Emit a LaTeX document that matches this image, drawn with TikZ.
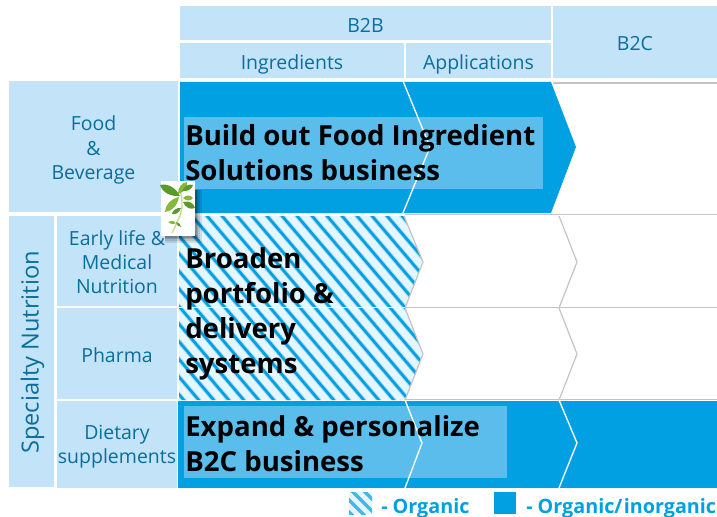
\documentclass[tikz,border=0pt]{standalone}
\usepackage{fontspec}
\usetikzlibrary{calc}
\setmainfont{Open Sans}
\definecolor{cellblue}{HTML}{C2E3F8}
\definecolor{labelblue}{HTML}{0A6E9C}
\definecolor{solidblue}{HTML}{00A0E3}
\definecolor{boxblue}{HTML}{5ABDEC}
\definecolor{hatchbg}{HTML}{E6F6FE}
\definecolor{hatchhalo}{HTML}{A9DDF5}
\definecolor{rulegray}{HTML}{C4C4C4}
\definecolor{leafa}{HTML}{86B83C}
\definecolor{leafb}{HTML}{5A9A2A}
\definecolor{stemc}{HTML}{CBDC8E}
\tikzset{
  cellfill/.style={fill=cellblue},
  celltext/.style={text=labelblue,align=center,font=\fontsize{14.6}{18}\selectfont,inner sep=0pt},
  headtext/.style={text=black,align=left,anchor=north west,inner sep=0pt,font=\fontsize{20.7}{26.3}\bfseries\selectfont},
  legendtext/.style={text=solidblue,anchor=base west,inner sep=0pt,font=\fontsize{14.8}{16}\bfseries\selectfont},
  whiteline/.style={draw=white,line width=1pt},
  grayline/.style={draw=rulegray,line width=0.9pt},
}
\newcommand{\cell}[7]{%
  \fill[cellfill] (#2,#3) rectangle (#4,#5);
  \node[celltext] (#1) at ({(#2+#4)/2},{(#3+#5)/2+#6}) {#7};
}
\newcommand{\stripes}{%
  \foreach \s in {-220,-205,...,560} {
    \draw[hatchhalo,line width=3.4pt] (\s,190) -- ++(200,235);
    \draw[solidblue,line width=2pt] (\s,190) -- ++(200,235);
  }
}
\newcommand{\leafshape}[4]{%
  \fill[#3] (#1) .. controls ($(#1)!.35!(#2)!#4!90:(#2)$) and ($(#1)!.75!(#2)!#4!90:(#2)$) .. (#2)
    .. controls ($(#1)!.75!(#2)!#4!-90:(#2)$) and ($(#1)!.35!(#2)!#4!-90:(#2)$) .. (#1) -- cycle;
}
\begin{document}
\begin{tikzpicture}[x=0.75pt,y=-0.75pt]
\useasboundingbox (0,0) rectangle (717,517);
\fill[white] (0,0) rectangle (717,517);
% header cells
\cell{btob}{180}{6}{551}{40}{2}{B2B}
\cell{ingr}{180}{43}{404}{78}{3.5}{Ingredients}
\cell{appl}{406}{43}{551}{78}{3.5}{Applications}
\cell{btoc}{553}{6}{717}{78}{2}{B2C}
% row cells
\cell{food}{9}{81}{178}{212}{3.5}{Food\\[0.6pt]\&\\[0.6pt]Beverage}
\cell{spec}{9}{216}{54}{487}{0}{}
\node[celltext,rotate=90,font=\fontsize{17.7}{20}\selectfont] (specl) at (32.5,352.5) {Specialty Nutrition};
\cell{early}{57}{216}{177}{306}{1.5}{Early life \&\\Medical\\Nutrition}
\cell{pharma}{57}{308}{177}{399}{1.5}{Pharma}
\cell{diet}{57}{401}{177}{488}{2}{Dietary\\supplements}
% grid rules
\draw[grayline] (553,83) -- (717,83);
\draw[grayline] (405,214.5) -- (717,214.5);
\draw[grayline] (405,307.5) -- (717,307.5);
\draw[grayline] (405,399.5) -- (717,399.5);
% top arrow
\fill[solidblue] (180,82) -- (551,82) -- (576,147) -- (551,213) -- (180,213) -- cycle;
\fill[boxblue] (184,117) rectangle (543,189);
\draw[whiteline] (403,81) -- (430,147) -- (403,213);
% hatched arrow
\begin{scope}
\clip (179,216) -- (404,216) -- (423,262) -- (405,308) -- (423,354) -- (405,400) -- (179,400) -- cycle;
\fill[hatchbg] (179,216) rectangle (430,400);
\stripes
\end{scope}
\draw[grayline] (404,216) -- (423,262) -- (405,308) -- (423,354) -- (405,400);
\draw[grayline] (559,216) -- (577,262) -- (559,308) -- (577,354) -- (559,400);
\draw[white,line width=0.8pt] (179,307.5) -- (405,307.5);
% bottom band
\fill[solidblue] (178,400.5) rectangle (717,488);
\fill[boxblue] (184,406) rectangle (507,478);
\draw[whiteline] (405,400) -- (422,443) -- (405,488);
\draw[whiteline] (559,400) -- (577,443) -- (559,488);
% headings
\node[headtext] (h1) at (185,124) {Build out Food Ingredient\\Solutions business};
\node[headtext] (h2) at (185,247) {Broaden\\portfolio \&\\delivery\\systems};
\node[headtext] (h3) at (185,415) {Expand \& personalize\\B2C business};
% plant card
\foreach \o/\k in {0.10/7,0.12/5,0.14/3,0.16/1.5} {
  \fill[black,opacity=\o] (165,190) rectangle (195+\k,236+\k);
}
\fill[white] (161,181) rectangle (195,236);
\draw[stemc,line width=1.1pt] (180,190) .. controls (183,200) and (183,212) .. (178,220) .. controls (176,225) and (174,229) .. (172,233);
\coordinate (pa) at (180,196);
\coordinate (pb) at (160,185);
\leafshape{pa}{pb}{leafb}{4pt}
\coordinate (pc) at (178,194);
\coordinate (pd) at (187,182);
\leafshape{pc}{pd}{leafa}{3pt}
\coordinate (pe) at (182,191);
\coordinate (pf) at (193,185);
\leafshape{pe}{pf}{leafb}{2.5pt}
\coordinate (pg) at (179,197);
\coordinate (ph) at (165,212);
\leafshape{pg}{ph}{leafa}{3.5pt}
\coordinate (pi) at (183,198);
\coordinate (pj) at (193,198);
\leafshape{pi}{pj}{leafa}{2.5pt}
\coordinate (pk) at (183,202);
\coordinate (pl) at (195,208);
\leafshape{pk}{pl}{leafb}{3pt}
\coordinate (pm) at (181,208);
\coordinate (pn) at (172,214);
\leafshape{pm}{pn}{leafb}{2.2pt}
\coordinate (po) at (176,223);
\coordinate (pp) at (168,222);
\leafshape{po}{pp}{leafa}{1.6pt}
\coordinate (pq) at (176,222);
\coordinate (pr) at (181,227);
\leafshape{pq}{pr}{leafb}{1.3pt}
% legend
\begin{scope}
\clip (349,492) rectangle (372,514);
\fill[hatchbg] (349,492) rectangle (372,514);
\foreach \s in {310,322,...,380} { \draw[solidblue!75,line width=2.6pt] (\s,485) -- ++(40,40); }
\end{scope}
\node[legendtext] (lg1) at (381,513) {- Organic};
\fill[solidblue] (494,492) rectangle (516,514);
\node[legendtext] (lg2) at (526,513) {- Organic/\kern1pt inorganic};
\end{tikzpicture}
\end{document}
